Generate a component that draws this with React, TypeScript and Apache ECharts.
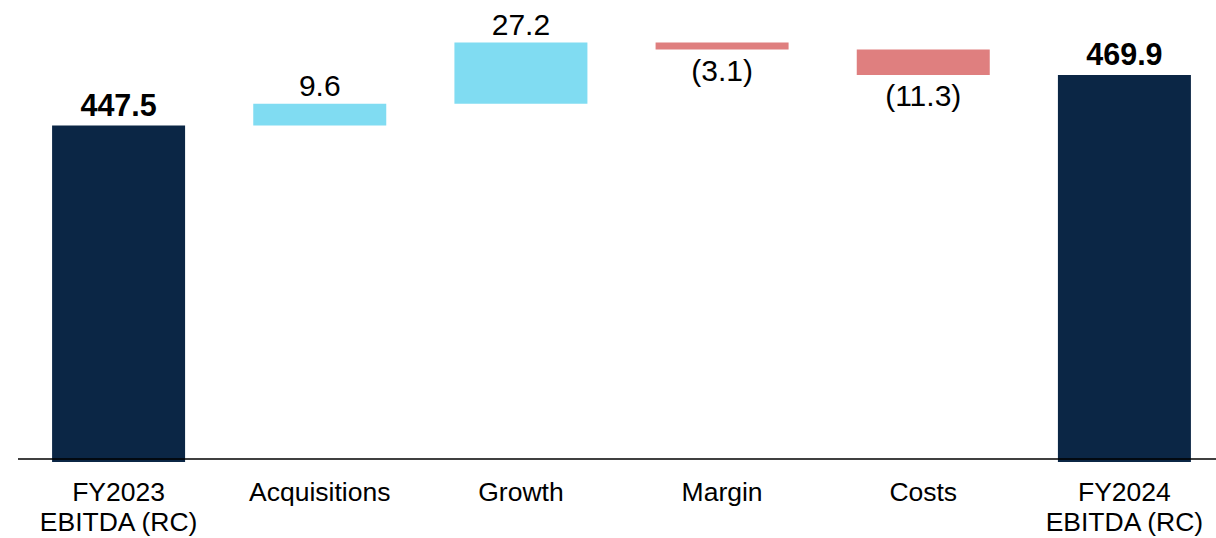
import React, { useEffect, useRef } from "react";
import * as echarts from "echarts";

const categories = ["FY2023\nEBITDA (RC)", "Acquisitions", "Growth", "Margin", "Costs", "FY2024\nEBITDA (RC)"];
const startValue = 447.5;
const endValue = 469.9;
const changes = [9.6, 27.2, -3.1, -11.3];

const NAVY = "#0B2645";
const CYAN = "#80DCF2";
const SALMON = "#DF7F7F";

export default function App() {
  const ref = useRef<HTMLDivElement>(null);
  useEffect(() => {
    if (!ref.current) return;
    const chart = echarts.init(ref.current, null, { renderer: "svg" });

    const n = categories.length;
    const base: (number | string)[] = new Array(n).fill("-");
    const totals: (number | string)[] = new Array(n).fill("-");
    const ups: (number | string)[] = new Array(n).fill("-");
    const downs: (number | string)[] = new Array(n).fill("-");
    base[0] = 0;
    base[n - 1] = 0;
    totals[0] = startValue;
    totals[n - 1] = endValue;
    let running = startValue;
    changes.forEach((c, i) => {
      const idx = i + 1;
      if (c >= 0) {
        base[idx] = running;
        ups[idx] = c;
      } else {
        base[idx] = running + c;
        downs[idx] = -c;
      }
      running += c;
    });

    const font = "'Liberation Sans', Arial, sans-serif";
    chart.setOption({
      animation: false,
      grid: { left: 18, right: 0, top: 7, bottom: 76, outerBoundsMode: "none", containLabel: false },
      xAxis: {
        type: "category",
        data: categories,
        axisLine: { show: false },
        axisTick: { show: false },
        axisLabel: {
          color: "#000",
          fontSize: 26.5,
          lineHeight: 30,
          fontFamily: font,
          margin: 15,
          interval: 0,
        },
      },
      yAxis: {
        type: "value",
        min: 298.5,
        max: 500,
        show: false,
        splitLine: { show: false },
      },
      series: [
        {
          type: "bar",
          stack: "w",
          data: base,
          barWidth: 133,
          itemStyle: { color: "transparent" },
          silent: true,
          markLine: {
            silent: true,
            symbol: ["none", "none"],
            label: { show: false },
            lineStyle: { color: "#000", width: 1.5, type: "solid" },
            data: [{ yAxis: 300 }],
            z: 10,
          },
        },
        {
          type: "bar",
          stack: "w",
          data: totals,
          barWidth: 133,
          itemStyle: { color: NAVY },
          label: {
            show: true,
            position: "top",
            distance: 5,
            color: "#000",
            fontSize: 30.5,
            fontWeight: "bold",
            fontFamily: font,
            formatter: (p: any) => Number(p.value).toFixed(1),
          },
        },
        {
          type: "bar",
          stack: "w",
          data: ups,
          barWidth: 133,
          itemStyle: { color: CYAN },
          label: {
            show: true,
            position: "top",
            distance: 3,
            color: "#000",
            fontSize: 30,
            fontFamily: font,
            formatter: (p: any) => Number(p.value).toFixed(1),
          },
        },
        {
          type: "bar",
          stack: "w",
          data: downs,
          barWidth: 133,
          itemStyle: { color: SALMON },
          label: {
            show: true,
            position: "bottom",
            distance: 6,
            color: "#000",
            fontSize: 30,
            fontFamily: font,
            formatter: (p: any) => "(" + Number(p.value).toFixed(1) + ")",
          },
        },
      ],
    });
    return () => chart.dispose();
  }, []);
  return (
    <div style={{ position: "absolute", left: 0, top: 0, width: 1216, height: 538, overflow: "hidden", background: "#fff" }}>
      <div ref={ref} style={{ width: 1225, height: 538 }} />
    </div>
  );
}
